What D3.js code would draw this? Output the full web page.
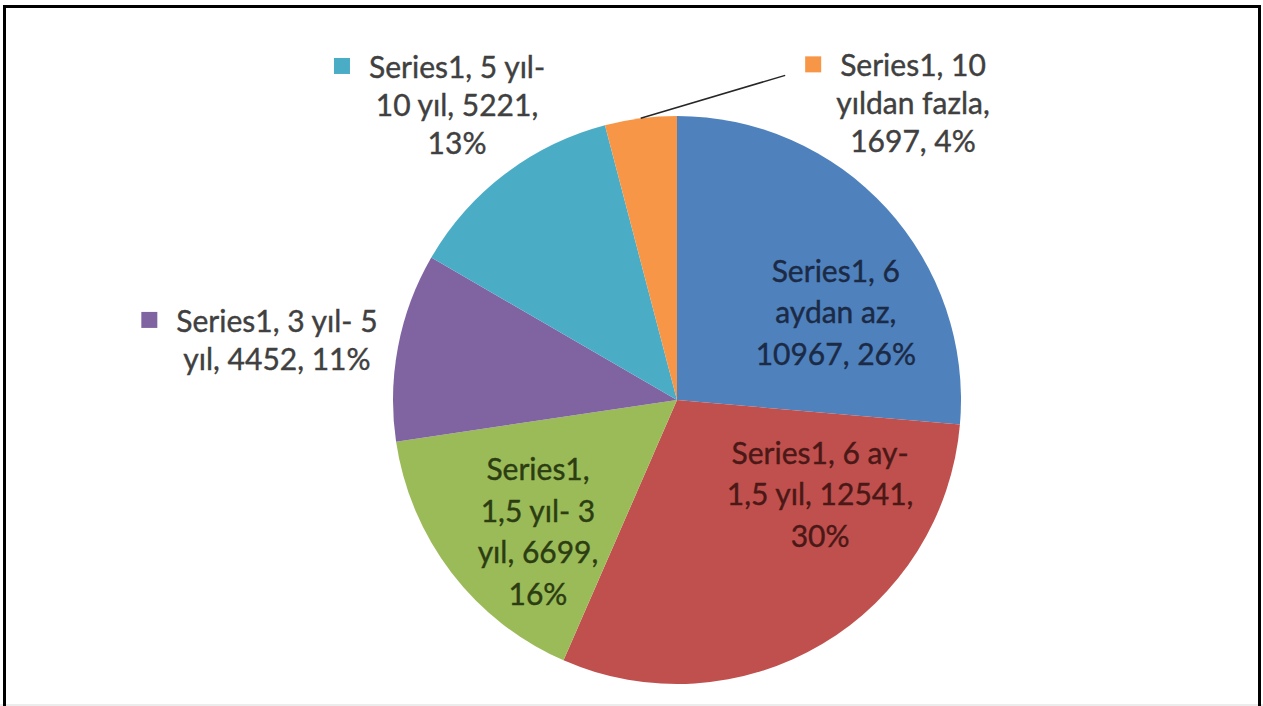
<!DOCTYPE html>
<html>
<head>
<meta charset="utf-8">
<script src="https://cdn.jsdelivr.net/npm/d3@7"></script>
<style>
  body { margin: 0; background: #fff; }
  svg { display: block; }
  text { font-family: Lato, "Open Sans", sans-serif; }
</style>
</head>
<body>
<svg id="chart" width="1263" height="706"></svg>
<script>
// data
var seriesName = "Series1";
var categories = ["6 aydan az", "6 ay- 1,5 yıl", "1,5 yıl- 3 yıl", "3 yıl- 5 yıl", "5 yıl- 10 yıl", "10 yıldan fazla"];
var values = [10967, 12541, 6699, 4452, 5221, 1697];
var percents = ["26%", "30%", "16%", "11%", "13%", "4%"];
// data label text, wrapped the way the original wraps it
var labelLines = [
  ["Series1, 6", "aydan az,", "10967, 26%"],
  ["Series1, 6 ay-", "1,5 yıl, 12541,", "30%"],
  ["Series1,", "1,5 yıl- 3", "yıl, 6699,", "16%"],
  ["Series1, 3 yıl- 5", "yıl, 4452, 11%"],
  ["Series1, 5 yıl-", "10 yıl, 5221,", "13%"],
  ["Series1, 10", "yıldan fazla,", "1697, 4%"]
];

// layout / style
var colors = ["#4f81bd", "#c0504d", "#9bbb59", "#8064a2", "#4bacc6", "#f79646"];
var textColors = ["#1b2a45", "#4a1816", "#2c3d12", "#404040", "#404040", "#404040"];
var labelAngle = [61.4, 123.6, 226.4, 278.4, 323.2, 38.6];   // degrees, clockwise from 12 o'clock
var labelDist = [0.637, 0.605, 0.676, 1.424, 1.293, 1.332];  // in radii
var labelInside = [true, true, true, false, false, false];
var leader = [false, false, false, false, false, true];

var svg = d3.select("#chart");
var W = 1263, H = 706;
var cx = 677, cy = 400, radius = 284;
var fontSize = 30;
var capH = 20;
var keySize = 16;

// frame
svg.append("line").attr("x1", 0).attr("x2", W).attr("y1", 705).attr("y2", 705)
  .attr("stroke", "#d9d9d9").attr("stroke-width", 1);
svg.append("path")
  .attr("d", "M4.5," + H + "V6.5H1259.5V" + H)
  .attr("fill", "none").attr("stroke", "#000").attr("stroke-width", 3);

var pie = d3.pie().sort(null).value(function(d) { return d; });
var arcs = pie(values);
var arc = d3.arc().innerRadius(0).outerRadius(radius);

var g = svg.append("g").attr("transform", "translate(" + cx + "," + cy + ")");

g.selectAll("path.slice").data(arcs).enter().append("path")
  .attr("class", "slice")
  .attr("d", arc)
  .attr("fill", function(d, i) { return colors[i]; });

arcs.forEach(function(d, i) {
  var a = labelAngle[i] * Math.PI / 180;
  var r = labelDist[i] * radius;
  var lx = r * Math.sin(a), ly = -r * Math.cos(a);
  var lines = labelLines[i];
  var lh = labelInside[i] ? 41.5 : 38;
  var firstBase = ly - ((lines.length - 1) * lh) / 2 + capH / 2;

  var t = g.append("text")
    .attr("text-anchor", "middle")
    .attr("font-size", fontSize)
    .attr("fill", textColors[i])
    .attr("stroke", textColors[i])
    .attr("stroke-width", 0.4);
  lines.forEach(function(s, k) {
    t.append("tspan").attr("x", lx).attr("y", firstBase + k * lh).text(s);
  });

  if (!labelInside[i]) {
    var w0 = t.select("tspan").node().getComputedTextLength();
    var keyX = lx - w0 / 2 - 19 - keySize;
    g.append("rect")
      .attr("x", keyX).attr("y", firstBase - 20)
      .attr("width", keySize).attr("height", keySize)
      .attr("fill", colors[i]);

    if (leader[i]) {
      var mid = (d.startAngle + d.endAngle) / 2;
      var p0 = [radius * Math.sin(mid), -radius * Math.cos(mid)];
      g.append("path")
        .attr("d", d3.line()([p0, [keyX - 20, firstBase - 1]]))
        .attr("fill", "none").attr("stroke", "#262626").attr("stroke-width", 1.5);
    }
  }
});
</script>
</body>
</html>
